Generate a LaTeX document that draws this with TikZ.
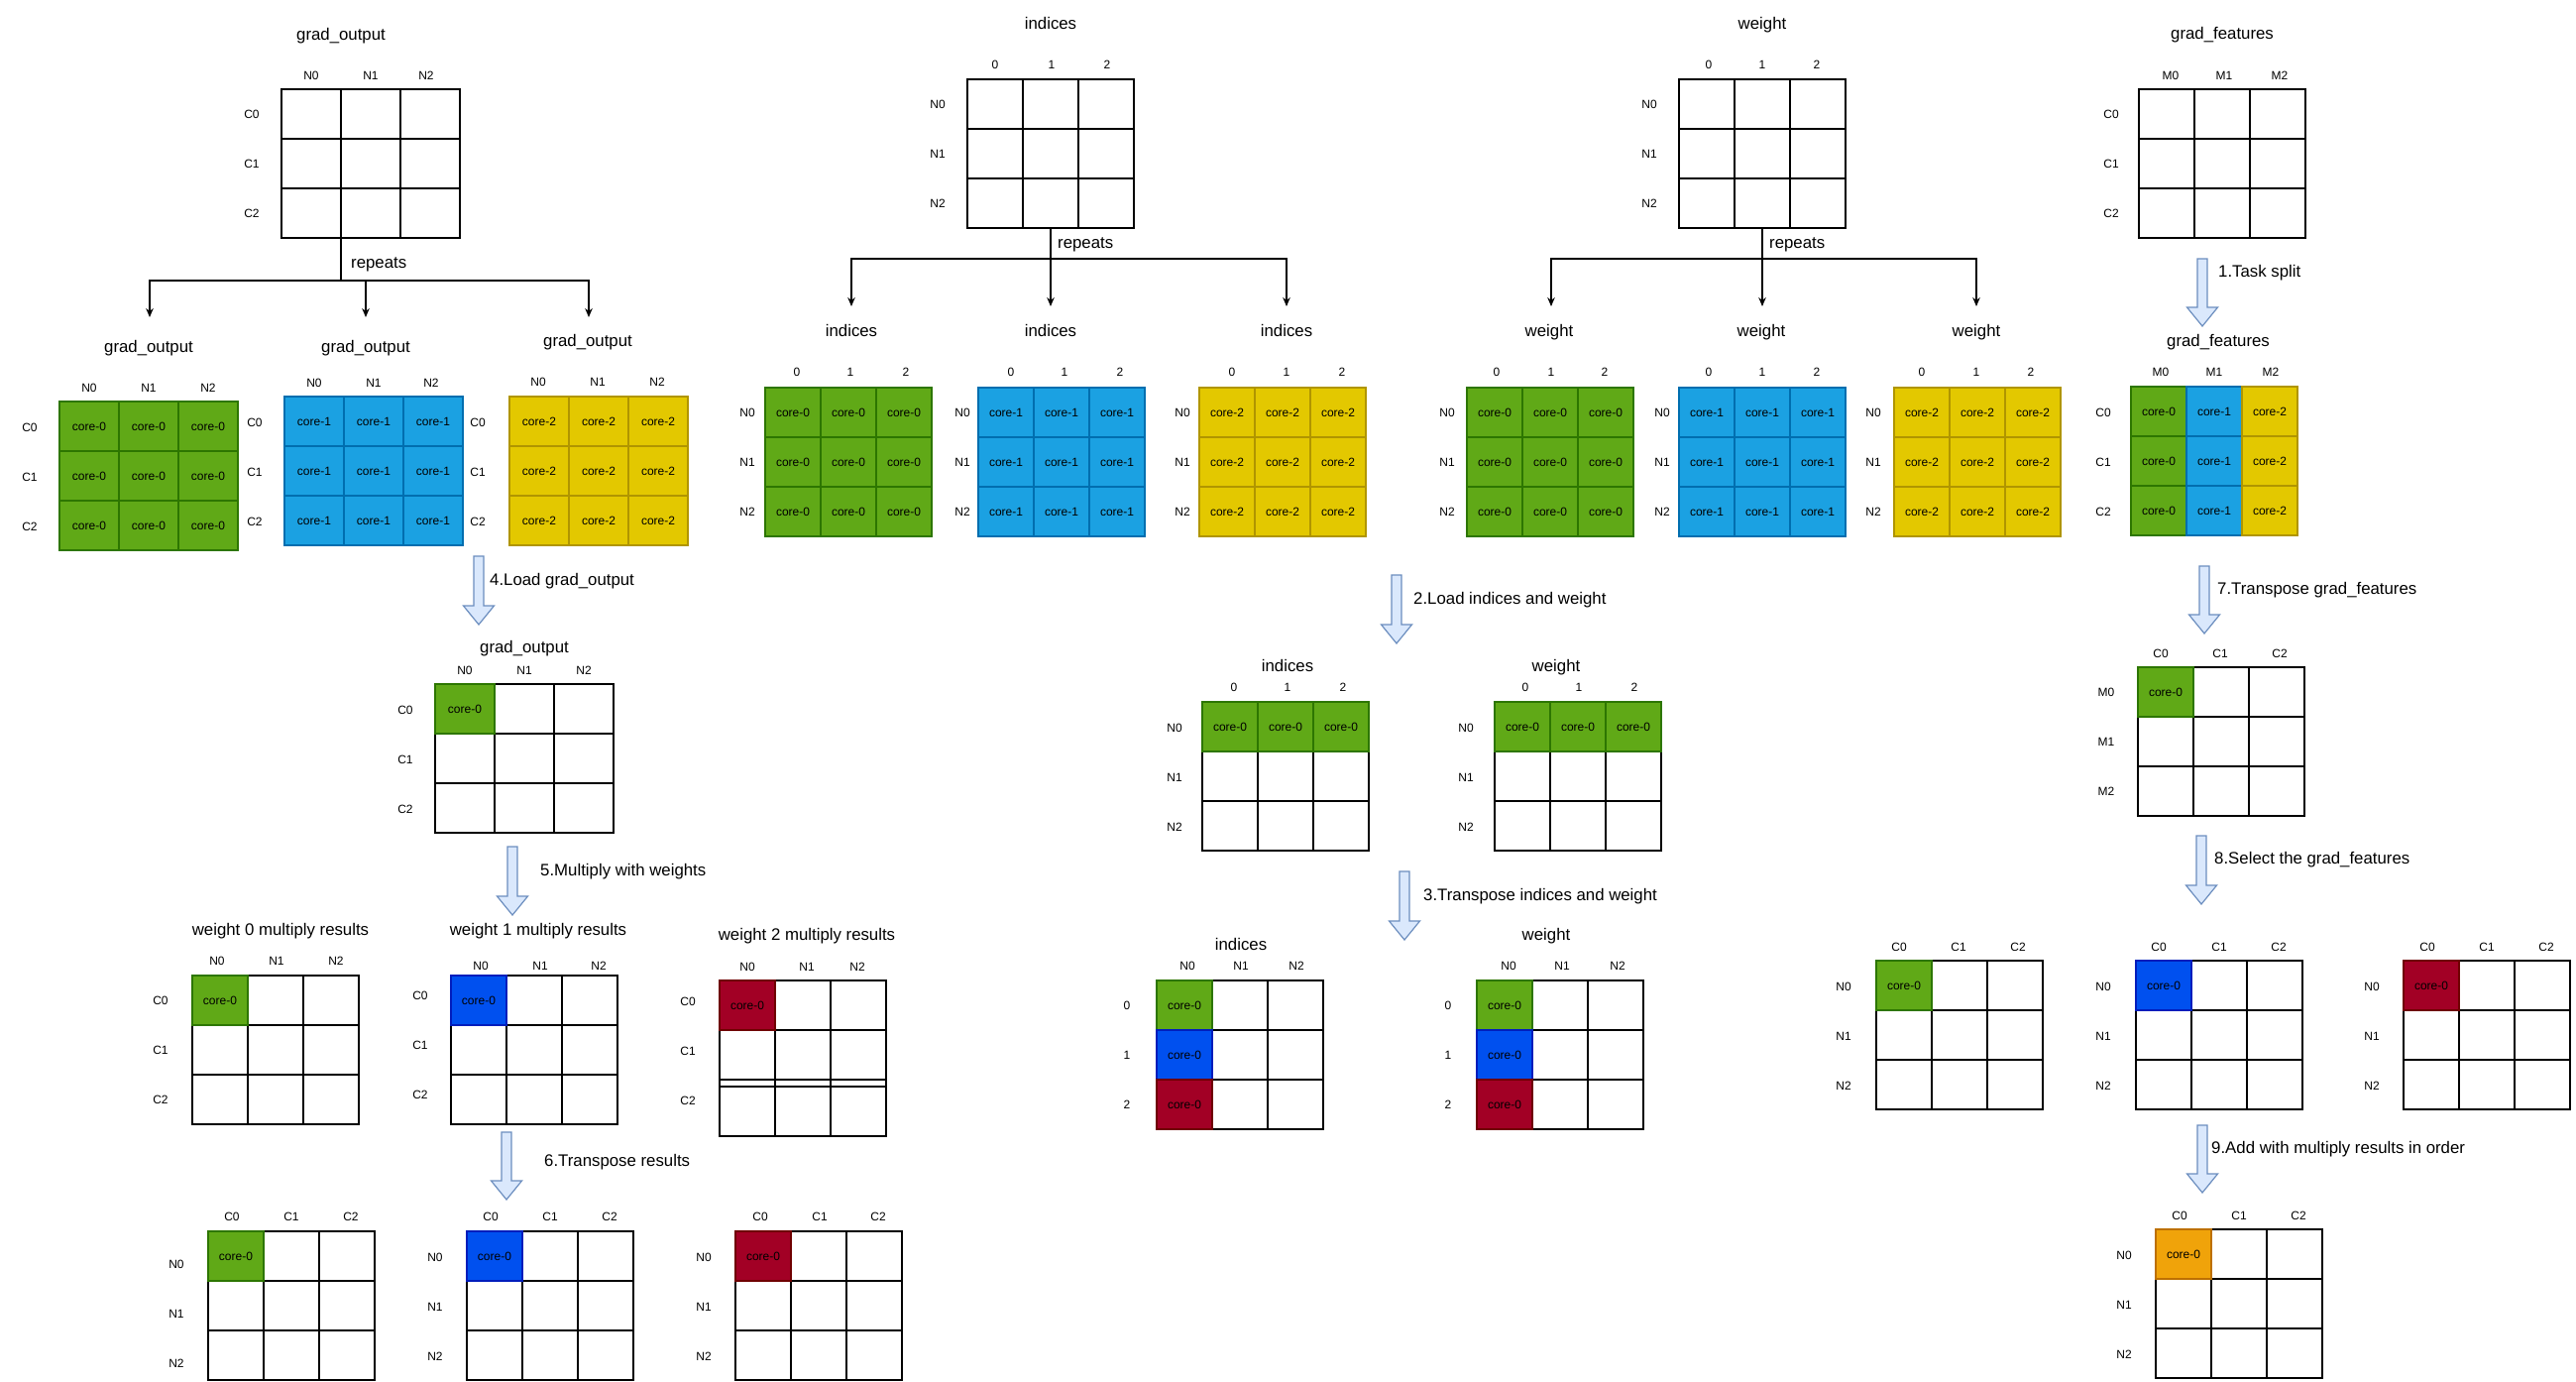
\documentclass[tikz,border=0pt]{standalone}
\usepackage{fontspec}
\setmainfont{Liberation Sans}
\usetikzlibrary{arrows.meta,calc}
\definecolor{gF}{HTML}{60A917}\definecolor{gS}{HTML}{2D7600}
\definecolor{bF}{HTML}{1BA1E2}\definecolor{bS}{HTML}{006EAF}
\definecolor{yF}{HTML}{E3C800}\definecolor{yS}{HTML}{B09500}
\definecolor{dF}{HTML}{0050EF}\definecolor{dS}{HTML}{001DBC}
\definecolor{rF}{HTML}{A20025}\definecolor{rS}{HTML}{6F0000}
\definecolor{oF}{HTML}{F0A30A}\definecolor{oS}{HTML}{BD7000}
\definecolor{arrfill}{HTML}{DAE8FC}\definecolor{arrdraw}{HTML}{6C8EBF}
\tikzset{
 sm/.style={font=\fontsize{12}{14}\selectfont, inner sep=0pt, text height=8.6pt, text depth=0pt},
 lg/.style={font=\fontsize{16.8}{20}\selectfont, inner sep=0pt, text height=12.3pt, text depth=3.5pt},
 lgw/.style={lg, anchor=west},
 gbox/.style={draw, line width=1.3pt, anchor=north west, minimum height=150pt, inner sep=0pt, outer sep=0pt},
 gl/.style={line width=1.3pt},
 cellnode/.style={draw, line width=1.3pt, anchor=north west, minimum height=50pt, inner sep=0pt, outer sep=0pt, font=\fontsize{12}{14}\selectfont, text height=8.6pt, text depth=0pt},
 flexarr/.style={fill=arrfill, draw=arrdraw, line width=1.2pt, line join=miter},
 tline/.style={line width=1.2pt},
 tarr/.style={tline, -{Stealth[length=9pt,width=7.5pt]}},
}
\newcommand\wgrid[4]{%
  \node[gbox, minimum width={3*#4}] (#1) at (#2,#3) {};
  \foreach \i in {1,2} {
    \draw[gl] ({#2+\i*#4},{#3}) -- ({#2+\i*#4},{#3+150});
    \draw[gl] ({#2},{#3+\i*50}) -- ({#2+3*#4},{#3+\i*50});
  }}
\newcommand\mcell[7]{\node[cellnode, fill=#5, draw=#6, minimum width=#4] (#1) at (#2,#3) {#7};}
\newcommand\fgrid[7]{%
  \foreach \r in {0,1,2} {\foreach \c in {0,1,2} {
    \node[cellnode, fill=#5, draw=#6, minimum width=#4] (#1-\r\c) at ({#2+\c*#4},{#3+\r*50}) {#7};
  }}
  \node[gbox, draw=#6, minimum width={3*#4}] (#1) at (#2,#3) {};}
\newcommand\colLabs[3]{\foreach \xx/\lab [count=\k] in {#3} {\node[sm] (#1c\k) at (\xx,#2) {\lab};}}
\newcommand\rowLabs[3]{\foreach \yy/\lab [count=\k] in {#3} {\node[sm] (#1r\k) at (#2,\yy) {\lab};}}
\newcommand\bigarrow[3]{\draw[flexarr] ({#1-5},#2) -- ({#1+5},#2) -- ({#1+5},{#3-19}) -- ({#1+15.5},{#3-19}) -- (#1,#3) -- ({#1-15.5},{#3-19}) -- ({#1-5},{#3-19}) -- cycle;}
\begin{document}
\begin{tikzpicture}[x=1pt,y=-1pt]
\useasboundingbox (0,0) rectangle (2599,1393);
\fill[white] (0,0) rectangle (2599,1393);

% ---------- grad_output (top left) ----------
\wgrid{goTop}{284}{90}{60}
\node[lg] (goTopT) at (344,36) {grad\_output};
\colLabs{goTop}{76}{314/N0,374/N1,430/N2}
\rowLabs{goTop}{254}{115/C0,165/C1,215/C2}
\coordinate (goS) at ($(goTop.south west)+(60,0)$);
\coordinate (goJ) at (344,283);
\coordinate (goT1) at (151,320);
\coordinate (goT2) at (369,320);
\coordinate (goT3) at (594,320);
\draw[tline] (goS) -- (goJ);
\draw[tarr] (goJ) -| (goT1);
\draw[tarr] (goJ) -| (goT2);
\draw[tarr] (goJ) -| (goT3);
\node[lgw] (goRep) at (354,266) {repeats};

\fgrid{goG}{60}{405}{60}{gF}{gS}{core-0}
\node[lg] (goGT) at (150,351) {grad\_output};
\colLabs{goG}{391}{90/N0,150/N1,210/N2}
\rowLabs{goG}{30}{431/C0,481/C1,531/C2}
\fgrid{goB}{287}{400}{60}{bF}{bS}{core-1}
\node[lg] (goBT) at (369,351) {grad\_output};
\colLabs{goB}{386}{317/N0,377/N1,435/N2}
\rowLabs{goB}{257}{426/C0,476/C1,526/C2}
\fgrid{goY}{514}{400}{60}{yF}{yS}{core-2}
\node[lg] (goYT) at (593,345) {grad\_output};
\colLabs{goY}{385}{543/N0,603/N1,663/N2}
\rowLabs{goY}{482}{426/C0,476/C1,526/C2}

% step 4
\bigarrow{483}{561}{630}
\node[lgw] (s4) at (494,586) {4.Load grad\_output};
\wgrid{goL}{439}{690}{60}
\mcell{goLc}{439}{690}{60}{gF}{gS}{core-0}
\node[lg] (goLT) at (529,654) {grad\_output};
\colLabs{goL}{676}{469/N0,529/N1,589/N2}
\rowLabs{goL}{409}{716/C0,766/C1,816/C2}

% step 5
\bigarrow{517}{854}{923}
\node[lgw] (s5) at (545,879) {5.Multiply with weights};
\wgrid{w0}{194}{984}{56}
\mcell{w0c}{194}{984}{56}{gF}{gS}{core-0}
\node[lg] (w0T) at (283,939) {weight 0 multiply results};
\colLabs{w0}{969}{219/N0,279/N1,339/N2}
\rowLabs{w0}{162}{1009/C0,1059/C1,1109/C2}
\wgrid{w1}{455}{984}{56}
\mcell{w1c}{455}{984}{56}{dF}{dS}{core-0}
\node[lg] (w1T) at (543,939) {weight 1 multiply results};
\colLabs{w1}{974}{485/N0,545/N1,604/N2}
\rowLabs{w1}{424}{1004/C0,1054/C1,1104/C2}
\node[gbox, minimum width=168, minimum height=157] (w2) at (726,989) {};
\draw[gl] (782,989) -- (782,1146);
\draw[gl] (838,989) -- (838,1146);
\draw[gl] (726,1039) -- (894,1039);
\draw[gl] (726,1089) -- (894,1089);
\draw[gl] (726,1096) -- (894,1096);
\mcell{w2c}{726}{989}{56}{rF}{rS}{core-0}
\node[lg] (w2T) at (814,944) {weight 2 multiply results};
\colLabs{w2}{975}{754/N0,814/N1,865/N2}
\rowLabs{w2}{694}{1010/C0,1060/C1,1110/C2}

% step 6
\bigarrow{511}{1142}{1210}
\node[lgw] (s6) at (549,1172) {6.Transpose results};
\wgrid{t0}{210}{1242}{56}
\mcell{t0c}{210}{1242}{56}{gF}{gS}{core-0}
\colLabs{t0}{1227}{234/C0,294/C1,354/C2}
\rowLabs{t0}{178}{1275/N0,1325/N1,1375/N2}
\wgrid{t1}{471}{1242}{56}
\mcell{t1c}{471}{1242}{56}{dF}{dS}{core-0}
\colLabs{t1}{1227}{495/C0,555/C1,615/C2}
\rowLabs{t1}{439}{1268/N0,1318/N1,1368/N2}
\wgrid{t2}{742}{1242}{56}
\mcell{t2c}{742}{1242}{56}{rF}{rS}{core-0}
\colLabs{t2}{1227}{767/C0,827/C1,886/C2}
\rowLabs{t2}{710}{1268/N0,1318/N1,1368/N2}

% ---------- indices ----------
\wgrid{indTop}{976}{80}{56}
\node[lg] (indTopT) at (1060,25) {indices};
\colLabs{indTop}{65}{1004/0,1061/1,1117/2}
\rowLabs{indTop}{946}{105/N0,155/N1,205/N2}
\coordinate (indS) at (indTop.south);
\coordinate (indJ) at (1060,261);
\coordinate (indT1) at (859,309);
\coordinate (indT2) at (1060,309);
\coordinate (indT3) at (1298,309);
\draw[tline] (indS) -- (indJ);
\draw[tarr] (indJ) -| (indT1);
\draw[tarr] (indJ) -- (indT2);
\draw[tarr] (indJ) -| (indT3);
\node[lgw] (indRep) at (1067,246) {repeats};

\fgrid{indG}{772}{391}{56}{gF}{gS}{core-0}
\node[lg] (indGT) at (859,335) {indices};
\colLabs{indG}{375}{804/0,858/1,914/2}
\rowLabs{indG}{754}{416/N0,466/N1,516/N2}
\fgrid{indB}{987}{391}{56}{bF}{bS}{core-1}
\node[lg] (indBT) at (1060,335) {indices};
\colLabs{indB}{375}{1020/0,1074/1,1130/2}
\rowLabs{indB}{971}{416/N0,466/N1,516/N2}
\fgrid{indY}{1210}{391}{56}{yF}{yS}{core-2}
\node[lg] (indYT) at (1298,335) {indices};
\colLabs{indY}{375}{1243/0,1298/1,1354/2}
\rowLabs{indY}{1193}{416/N0,466/N1,516/N2}

% step 2
\bigarrow{1409}{580}{649}
\node[lgw] (s2) at (1426,605) {2.Load indices and weight};
\wgrid{indL}{1213}{708}{56}
\foreach \c in {0,1,2} {\mcell{indLc\c}{1213+\c*56}{708}{56}{gF}{gS}{core-0}}
\node[lg] (indLT) at (1299,673) {indices};
\colLabs{indL}{693}{1245/0,1299/1,1355/2}
\rowLabs{indL}{1185}{734/N0,784/N1,834/N2}
\wgrid{wL}{1508}{708}{56}
\foreach \c in {0,1,2} {\mcell{wLc\c}{1508+\c*56}{708}{56}{gF}{gS}{core-0}}
\node[lg] (wLT) at (1570,673) {weight};
\colLabs{wL}{693}{1539/0,1593/1,1649/2}
\rowLabs{wL}{1479}{734/N0,784/N1,834/N2}

% step 3
\bigarrow{1417}{879}{948}
\node[lgw] (s3) at (1436,904) {3.Transpose indices and weight};
\wgrid{indT}{1167}{989}{56}
\mcell{indTc0}{1167}{989}{56}{gF}{gS}{core-0}
\mcell{indTc1}{1167}{1039}{56}{dF}{dS}{core-0}
\mcell{indTc2}{1167}{1089}{56}{rF}{rS}{core-0}
\node[lg] (indTT) at (1252,954) {indices};
\colLabs{indT}{974}{1198/N0,1252/N1,1308/N2}
\rowLabs{indT}{1137}{1014/0,1064/1,1114/2}
\wgrid{wT}{1490}{989}{56}
\mcell{wTc0}{1490}{989}{56}{gF}{gS}{core-0}
\mcell{wTc1}{1490}{1039}{56}{dF}{dS}{core-0}
\mcell{wTc2}{1490}{1089}{56}{rF}{rS}{core-0}
\node[lg] (wTT) at (1560,944) {weight};
\colLabs{wT}{974}{1522/N0,1576/N1,1632/N2}
\rowLabs{wT}{1461}{1014/0,1064/1,1114/2}

% ---------- weight ----------
\wgrid{wTop}{1694}{80}{56}
\node[lg] (wTopT) at (1778,25) {weight};
\colLabs{wTop}{65}{1724/0,1778/1,1833/2}
\rowLabs{wTop}{1664}{105/N0,155/N1,205/N2}
\coordinate (wS) at (wTop.south);
\coordinate (wJ) at (1778,261);
\coordinate (wT1) at (1565,309);
\coordinate (wT2) at (1778,309);
\coordinate (wT3) at (1994,309);
\draw[tline] (wS) -- (wJ);
\draw[tarr] (wJ) -| (wT1);
\draw[tarr] (wJ) -- (wT2);
\draw[tarr] (wJ) -| (wT3);
\node[lgw] (wRep) at (1785,246) {repeats};

\fgrid{wG}{1480}{391}{56}{gF}{gS}{core-0}
\node[lg] (wGT) at (1563,335) {weight};
\colLabs{wG}{375}{1510/0,1565/1,1619/2}
\rowLabs{wG}{1460}{416/N0,466/N1,516/N2}
\fgrid{wB}{1694}{391}{56}{bF}{bS}{core-1}
\node[lg] (wBT) at (1777,335) {weight};
\colLabs{wB}{375}{1724/0,1778/1,1833/2}
\rowLabs{wB}{1677}{416/N0,466/N1,516/N2}
\fgrid{wY}{1911}{391}{56}{yF}{yS}{core-2}
\node[lg] (wYT) at (1994,335) {weight};
\colLabs{wY}{375}{1939/0,1994/1,2049/2}
\rowLabs{wY}{1890}{416/N0,466/N1,516/N2}

% ---------- grad_features ----------
\wgrid{gfTop}{2158}{90}{56}
\node[lg] (gfTopT) at (2242,35) {grad\_features};
\colLabs{gfTop}{76}{2190/M0,2244/M1,2300/M2}
\rowLabs{gfTop}{2130}{115/C0,165/C1,215/C2}
\bigarrow{2222}{261}{329}
\node[lgw] (s1) at (2238,275) {1.Task split};
\foreach \r in {0,1,2} {
  \mcell{gfC-\r0}{2150}{390+\r*50}{56}{gF}{gS}{core-0}
  \mcell{gfC-\r1}{2206}{390+\r*50}{56}{bF}{bS}{core-1}
  \mcell{gfC-\r2}{2262}{390+\r*50}{56}{yF}{yS}{core-2}
}
\node[lg] (gfCT) at (2238,345) {grad\_features};
\colLabs{gfC}{375}{2180/M0,2234/M1,2291/M2}
\rowLabs{gfC}{2122}{416/C0,466/C1,516/C2}

\bigarrow{2224}{571}{639}
\node[lgw] (s7) at (2237,595) {7.Transpose grad\_features};
\wgrid{gfT}{2157}{673}{56}
\mcell{gfTc}{2157}{673}{56}{gF}{gS}{core-0}
\colLabs{gfT}{659}{2180/C0,2240/C1,2300/C2}
\rowLabs{gfT}{2125}{698/M0,748/M1,798/M2}

\bigarrow{2221}{843}{912}
\node[lgw] (s8) at (2234,867) {8.Select the grad\_features};
\wgrid{sel0}{1893}{969}{56}
\mcell{sel0c}{1893}{969}{56}{gF}{gS}{core-0}
\colLabs{sel0}{955}{1916/C0,1976/C1,2036/C2}
\rowLabs{sel0}{1860}{995/N0,1045/N1,1095/N2}
\wgrid{sel1}{2155}{969}{56}
\mcell{sel1c}{2155}{969}{56}{dF}{dS}{core-0}
\colLabs{sel1}{955}{2178/C0,2239/C1,2299/C2}
\rowLabs{sel1}{2122}{995/N0,1045/N1,1095/N2}
\wgrid{sel2}{2425}{969}{56}
\mcell{sel2c}{2425}{969}{56}{rF}{rS}{core-0}
\colLabs{sel2}{955}{2449/C0,2509/C1,2569/C2}
\rowLabs{sel2}{2393}{995/N0,1045/N1,1095/N2}

\bigarrow{2222}{1135}{1203}
\node[lgw] (s9) at (2231,1159) {9.Add with multiply results in order};
\wgrid{fin}{2175}{1240}{56}
\mcell{finc}{2175}{1240}{56}{oF}{oS}{core-0}
\colLabs{fin}{1226}{2199/C0,2259/C1,2319/C2}
\rowLabs{fin}{2143}{1266/N0,1316/N1,1366/N2}
\end{tikzpicture}
\end{document}
